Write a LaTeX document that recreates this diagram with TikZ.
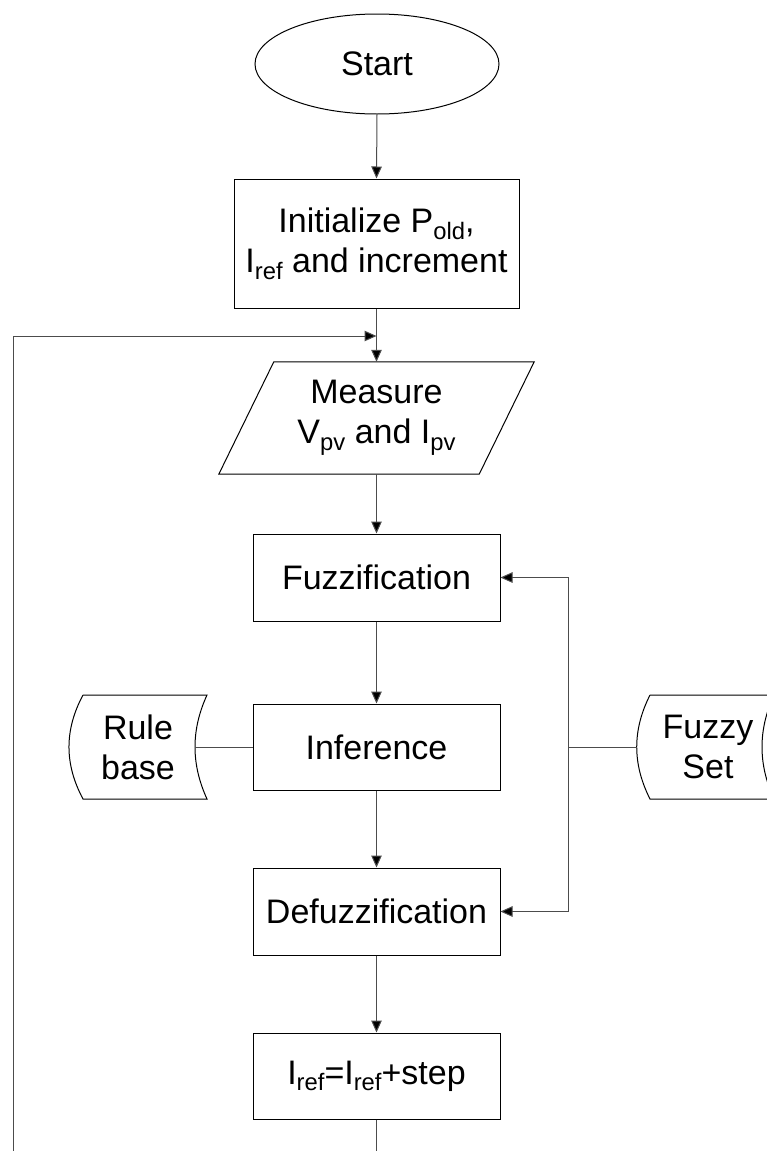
\documentclass[tikz,border=0pt]{standalone}
\usepackage{fontspec}
\setmainfont{Liberation Sans}
\usetikzlibrary{arrows.meta,shapes.geometric}
% lowered, smaller index text
\newcommand\subx[1]{\raisebox{-0.2em}{\fontsize{23.8}{24}\selectfont #1}}
\begin{document}
\begin{tikzpicture}[x=1pt,y=-1pt,
  every node/.style={font=\fontsize{34}{40}\selectfont, align=center, inner sep=0pt},
  procbox/.style={draw=black, line width=1pt, rectangle, minimum width=247, minimum height=87},
  outline/.style={draw=black, line width=1pt},
  conn/.style={draw=black!70, line width=1pt},
  arr/.style={conn, -{Triangle[length=12pt,width=10.5pt,fill=black]}}]
\useasboundingbox (0,0) rectangle (766,1151);

% main column
\node[outline, ellipse, minimum width=244, minimum height=100] (start) at (377,64) {Start};
\node[procbox, minimum width=285, minimum height=129] (init) at (376.5,243.5)
  {Initialize P\subx{old},\\I\subx{ref} and increment};
\node[minimum width=260, minimum height=112] (measure) at (376.5,418)
  {Measure\\V\subx{pv} and I\subx{pv}};
\draw[outline] ([xshift=27.5]measure.north west) -- ([xshift=27.5]measure.north east)
  -- ([xshift=-27.5]measure.south east) -- ([xshift=-27.5]measure.south west) -- cycle;
\node[procbox] (fuzz) at (376.5,577.5) {Fuzzification};
\node[procbox, minimum height=86] (infer) at (376.5,747) {Inference};
\node[procbox] (defuzz) at (376.5,911.5) {Defuzzification};
\node[procbox, minimum height=86] (iref) at (376.5,1076) {I\subx{ref}=I\subx{ref}+step};

% stored-data blocks
\node[minimum width=114, minimum height=104] (rule) at (138,747) {Rule\\base};
\draw[outline] (83,695) -- (207,695) .. controls (191,730) and (191,764) .. (207,799)
  -- (83,799) .. controls (64.3,764) and (64.3,730) .. (83,695);
\node[minimum width=142, minimum height=104] (fset) at (708,747) {Fuzzy\\Set};
\draw[outline] (650,695) -- (774,695) .. controls (758,730) and (758,764) .. (774,799)
  -- (650,799) .. controls (632.3,764) and (632.3,730) .. (650,695);

% connectors
\coordinate (join) at (376.5,336);
\coordinate (bus) at (568,747);
\coordinate (outB) at (376.5,1152);
\coordinate (inB) at (13,1152);

\draw[arr] (start.south) -- (init.north);
\draw[conn] (init.south) -- (join);
\draw[arr] (join) -- (measure.north);
\draw[arr] (measure.south) -- (fuzz.north);
\draw[arr] (fuzz.south) -- (infer.north);
\draw[arr] (infer.south) -- (defuzz.north);
\draw[arr] (defuzz.south) -- (iref.north);
\draw[conn] (iref.south) -- (outB);
\draw[arr] (inB) |- (join);
\draw[conn] (rule.east) -- (infer.west);
\draw[conn] (fset.west) -- (bus);
\draw[arr] (bus) |- (fuzz.east);
\draw[arr] (bus) |- (defuzz.east);
\end{tikzpicture}
\end{document}
